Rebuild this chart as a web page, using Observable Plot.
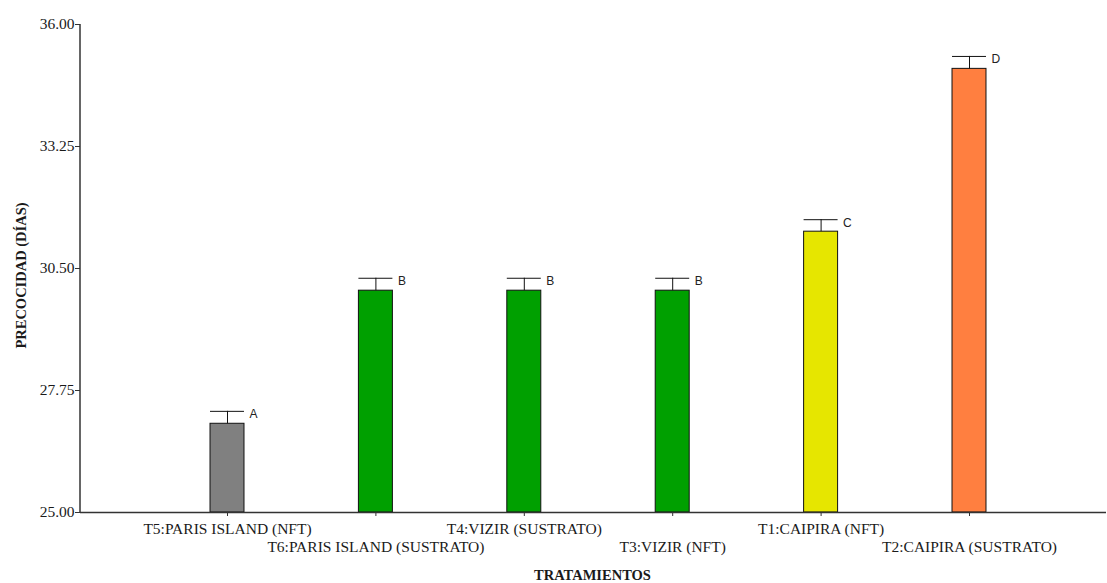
<!DOCTYPE html>
<html>
<head>
<meta charset="utf-8">
<script src="https://cdn.jsdelivr.net/npm/d3@7"></script>
<script src="https://cdn.jsdelivr.net/npm/@observablehq/plot@0.6"></script>
<style>
  html, body { margin: 0; padding: 0; background: #fff; }
  #chart { width: 1107px; height: 583px; }
</style>
</head>
<body>
<div id="chart"></div>
<script>
// Treatments in plotted order, mean days to harvest, error, and Tukey group letters
const tratamientos = [
  "T5:PARIS ISLAND (NFT)",
  "T6:PARIS ISLAND (SUSTRATO)",
  "T4:VIZIR (SUSTRATO)",
  "T3:VIZIR (NFT)",
  "T1:CAIPIRA (NFT)",
  "T2:CAIPIRA (SUSTRATO)"
];
const medias = [27.0, 30.0, 30.0, 30.0, 31.33, 35.0];
const errores = [0.28, 0.28, 0.28, 0.28, 0.27, 0.28];
const letras = ["A", "B", "B", "B", "C", "D"];
const colores = ["#808080", "#00a000", "#00a000", "#00a000", "#e6e600", "#ff7f40"];
const yTicks = [25, 27.75, 30.5, 33.25, 36];

const datos = tratamientos.map((t, i) => ({
  t, media: medias[i], sup: medias[i] + errores[i], letra: letras[i], color: colores[i], fila: i % 2
}));

const serif = "'Liberation Serif', 'Times New Roman', serif";
const ink = "#333";
const texto = "#1a1a1a";

const plot = Plot.plot({
  width: 1107,
  height: 583,
  marginLeft: 80,
  marginRight: 1,
  marginTop: 24,
  marginBottom: 71,
  style: { fontFamily: serif, fontSize: "15px", color: texto, background: "#fff" },
  x: {
    domain: tratamientos,
    range: [152.8, 1043.2],
    paddingInner: 0.771,
    paddingOuter: 0.3855,
    round: false
  },
  y: { domain: [25, 36] },
  color: { type: "identity" },
  marks: [
    Plot.axisY({
      ticks: yTicks,
      tickFormat: d3.format(".2f"),
      tickSize: 5,
      tickPadding: 1,
      label: null,
      stroke: ink,
      fill: texto,
      fontSize: 15.5
    }),
    Plot.axisX({ tickSize: 4, tickFormat: () => "", label: null, stroke: ink }),
    // bars
    Plot.barY(datos, { x: "t", y1: 25, y2: "media", fill: "color", stroke: "#111", strokeWidth: 1 }),
    // error whiskers and caps
    Plot.ruleX(datos, { x: "t", y1: "media", y2: "sup", stroke: "#111", strokeWidth: 1 }),
    Plot.tickY(datos, { x: "t", y: "sup", stroke: "#111", strokeWidth: 1 }),
    // group letters
    Plot.text(datos, {
      x: "t", y: "sup", text: "letra", textAnchor: "start", lineAnchor: "middle",
      dx: 22, dy: 3, fontFamily: "'Liberation Sans', Arial, sans-serif", fontSize: 12, fill: "#222"
    }),
    // staggered category labels
    Plot.text(datos.filter(d => d.fila === 0), {
      x: "t", text: "t", frameAnchor: "bottom", lineAnchor: "middle", dy: 17,
      fontSize: 15.5, fill: texto
    }),
    Plot.text(datos.filter(d => d.fila === 1), {
      x: "t", text: "t", frameAnchor: "bottom", lineAnchor: "middle", dy: 35,
      fontSize: 15.5, fill: texto
    }),
    // axis titles
    Plot.text(["TRATAMIENTOS"], {
      frameAnchor: "bottom", textAnchor: "middle", lineAnchor: "middle", dy: 63, dx: -1,
      fontWeight: "bold", fontSize: 14.5, fill: texto
    }),
    Plot.text(["PRECOCIDAD (DÍAS)"], {
      frameAnchor: "left", textAnchor: "middle", rotate: -90, lineAnchor: "middle", dx: -59, dy: 7,
      fontWeight: "bold", fontSize: 14.5, fill: texto
    }),
    // x axis baseline
    Plot.ruleY([25], { stroke: ink, strokeWidth: 1.5 })
  ]
});

// y axis line along the left edge of the frame
const y = plot.scale("y");
d3.select(plot).append("line")
  .attr("x1", 80).attr("x2", 80)
  .attr("y1", y.apply(36)).attr("y2", y.apply(25))
  .attr("stroke", ink).attr("stroke-width", 1.5);

document.getElementById("chart").append(plot);
</script>
</body>
</html>
